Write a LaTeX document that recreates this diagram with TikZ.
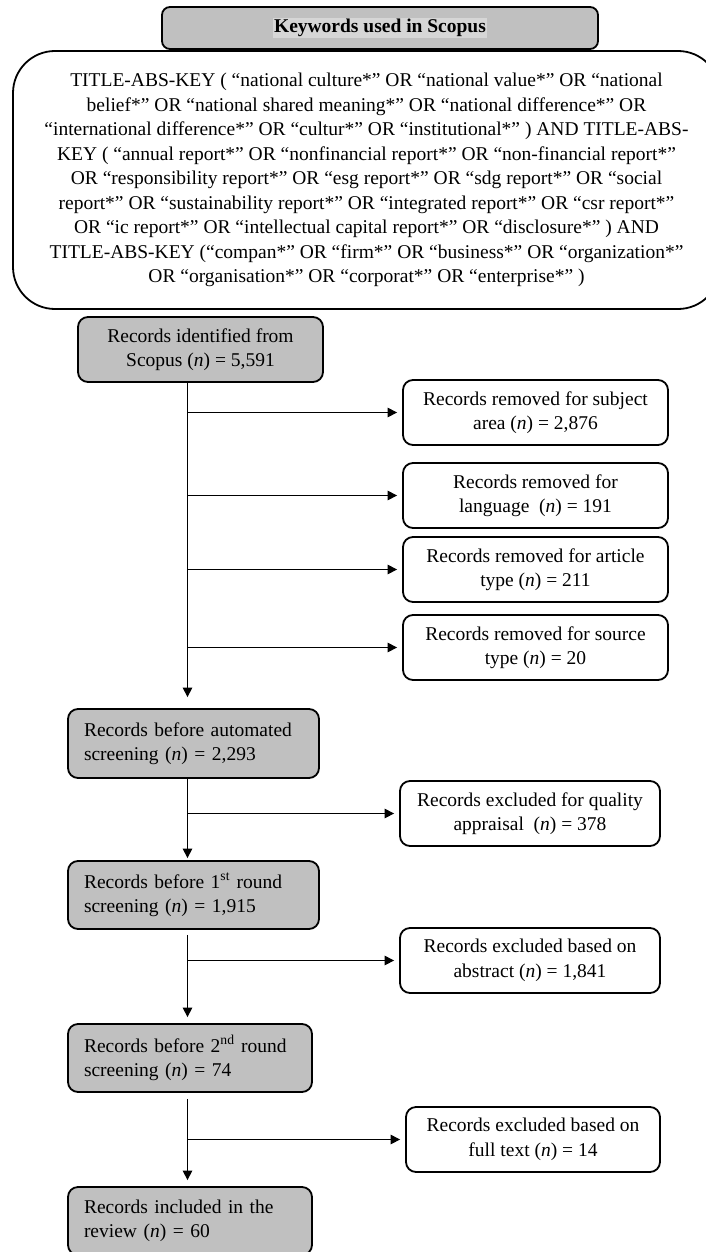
\documentclass[tikz,border=0pt]{standalone}
\usepackage{fontspec}
\setmainfont{Liberation Serif}
\usetikzlibrary{arrows.meta}
\definecolor{boxgray}{RGB}{192,192,192}
\definecolor{hlgray}{RGB}{214,214,214}
\newcommand{\nn}{(\textit{n})}

\begin{document}
\begin{tikzpicture}[x=1pt,y=-1pt]
\tikzstyle{every node}=[font=\fontsize{19.5}{24.5}\selectfont, inner sep=0pt]
\tikzstyle{stage}=[draw, line width=1.8pt, fill=boxgray, rounded corners=10pt, minimum height=68pt, align=left]
\tikzstyle{removed}=[draw, line width=1.8pt, rounded corners=10pt, minimum height=65pt, align=center]
\tikzstyle{flow}=[line width=1.2pt, -{Triangle[length=9.5pt,width=9.5pt]}]
\useasboundingbox (0,0) rectangle (706,1252);

\node (kw) [draw, line width=1.8pt, rounded corners=42pt, minimum width=707pt, minimum height=258pt, align=center] at (366.5,180)
{TITLE-ABS-KEY ( “national culture*” OR “national value*” OR “national\\
belief*” OR “national shared meaning*” OR “national difference*” OR\\
“international difference*” OR “cultur*” OR “institutional*” ) AND TITLE-ABS-\\
KEY ( “annual report*” OR “nonfinancial report*” OR “non-financial report*”\\
OR “responsibility report*” OR “esg report*” OR “sdg report*” OR “social\\
report*” OR “sustainability report*” OR “integrated report*” OR “csr report*”\\
OR “ic report*” OR “intellectual capital report*” OR “disclosure*” ) AND\\
TITLE-ABS-KEY (“compan*” OR “firm*” OR “business*” OR “organization*”\\
OR “organisation*” OR “corporat*” OR “enterprise*” )};
\node (kwt) [draw, line width=1.8pt, fill=boxgray, rounded corners=8pt, minimum width=436pt, minimum height=42pt] at (380,28)
{\setlength{\fboxsep}{1.5pt}\colorbox{hlgray}{\textbf{Keywords used in Scopus}}};

\node (idf) [stage, minimum width=245pt, minimum height=65pt, align=center] at (200.5,349.5) {Records identified from\\Scopus \nn{} = 5,591};
\node (auto) [stage, minimum width=251pt, text width=219pt, minimum height=69pt] at (193.5,743.5) {Records before automated\\screening \nn{} = 2,293};
\node (rnd1) [stage, minimum width=251pt, text width=219pt] at (193.5,895) {Records before 1\textsuperscript{st} round\\screening \nn{} = 1,915};
\node (rnd2) [stage, minimum width=244pt, text width=212pt] at (190,1058) {Records before 2\textsuperscript{nd} round\\screening \nn{} = 74};
\node (incl) [stage, minimum width=244pt, text width=212pt] at (190,1221) {Records included in the\\review \nn{} = 60};

\node (subj) [removed, minimum width=265pt] at (535.5,412.5) {Records removed for subject\\area \nn{} = 2,876};
\node (lang) [removed, minimum width=265pt] at (535.5,495.5) {Records removed for\\language~~\nn{} = 191};
\node (art) [removed, minimum width=265pt] at (535.5,569.5) {Records removed for article\\type \nn{} = 211};
\node (src) [removed, minimum width=265pt] at (535.5,647.5) {Records removed for source\\type \nn{} = 20};
\node (qual) [removed, minimum width=260pt] at (530,813.5) {Records excluded for quality\\appraisal~~\nn{} = 378};
\node (abs) [removed, minimum width=260pt] at (530,960.5) {Records excluded based on\\abstract \nn{} = 1,841};
\node (full) [removed, minimum width=254pt] at (533,1139.5) {Records excluded based on\\full text \nn{} = 14};

\coordinate (trunk) at (187.5,0);
\draw[flow, shorten >=11pt] (trunk |- idf.south) -- (trunk |- auto.north);
\draw[flow, shorten >=2pt] (trunk |- auto.south) -- (trunk |- rnd1.north);
\draw[flow, shorten <=5pt, shorten >=6pt] (trunk |- rnd1.south) -- (trunk |- rnd2.north);
\draw[flow, shorten <=6pt, shorten >=6pt] (trunk |- rnd2.south) -- (trunk |- incl.north);
\foreach \b in {subj,lang,art,src,qual,abs,full}
  \draw[flow, shorten >=5pt] (trunk |- \b.west) -- (\b.west);
\end{tikzpicture}
\end{document}
